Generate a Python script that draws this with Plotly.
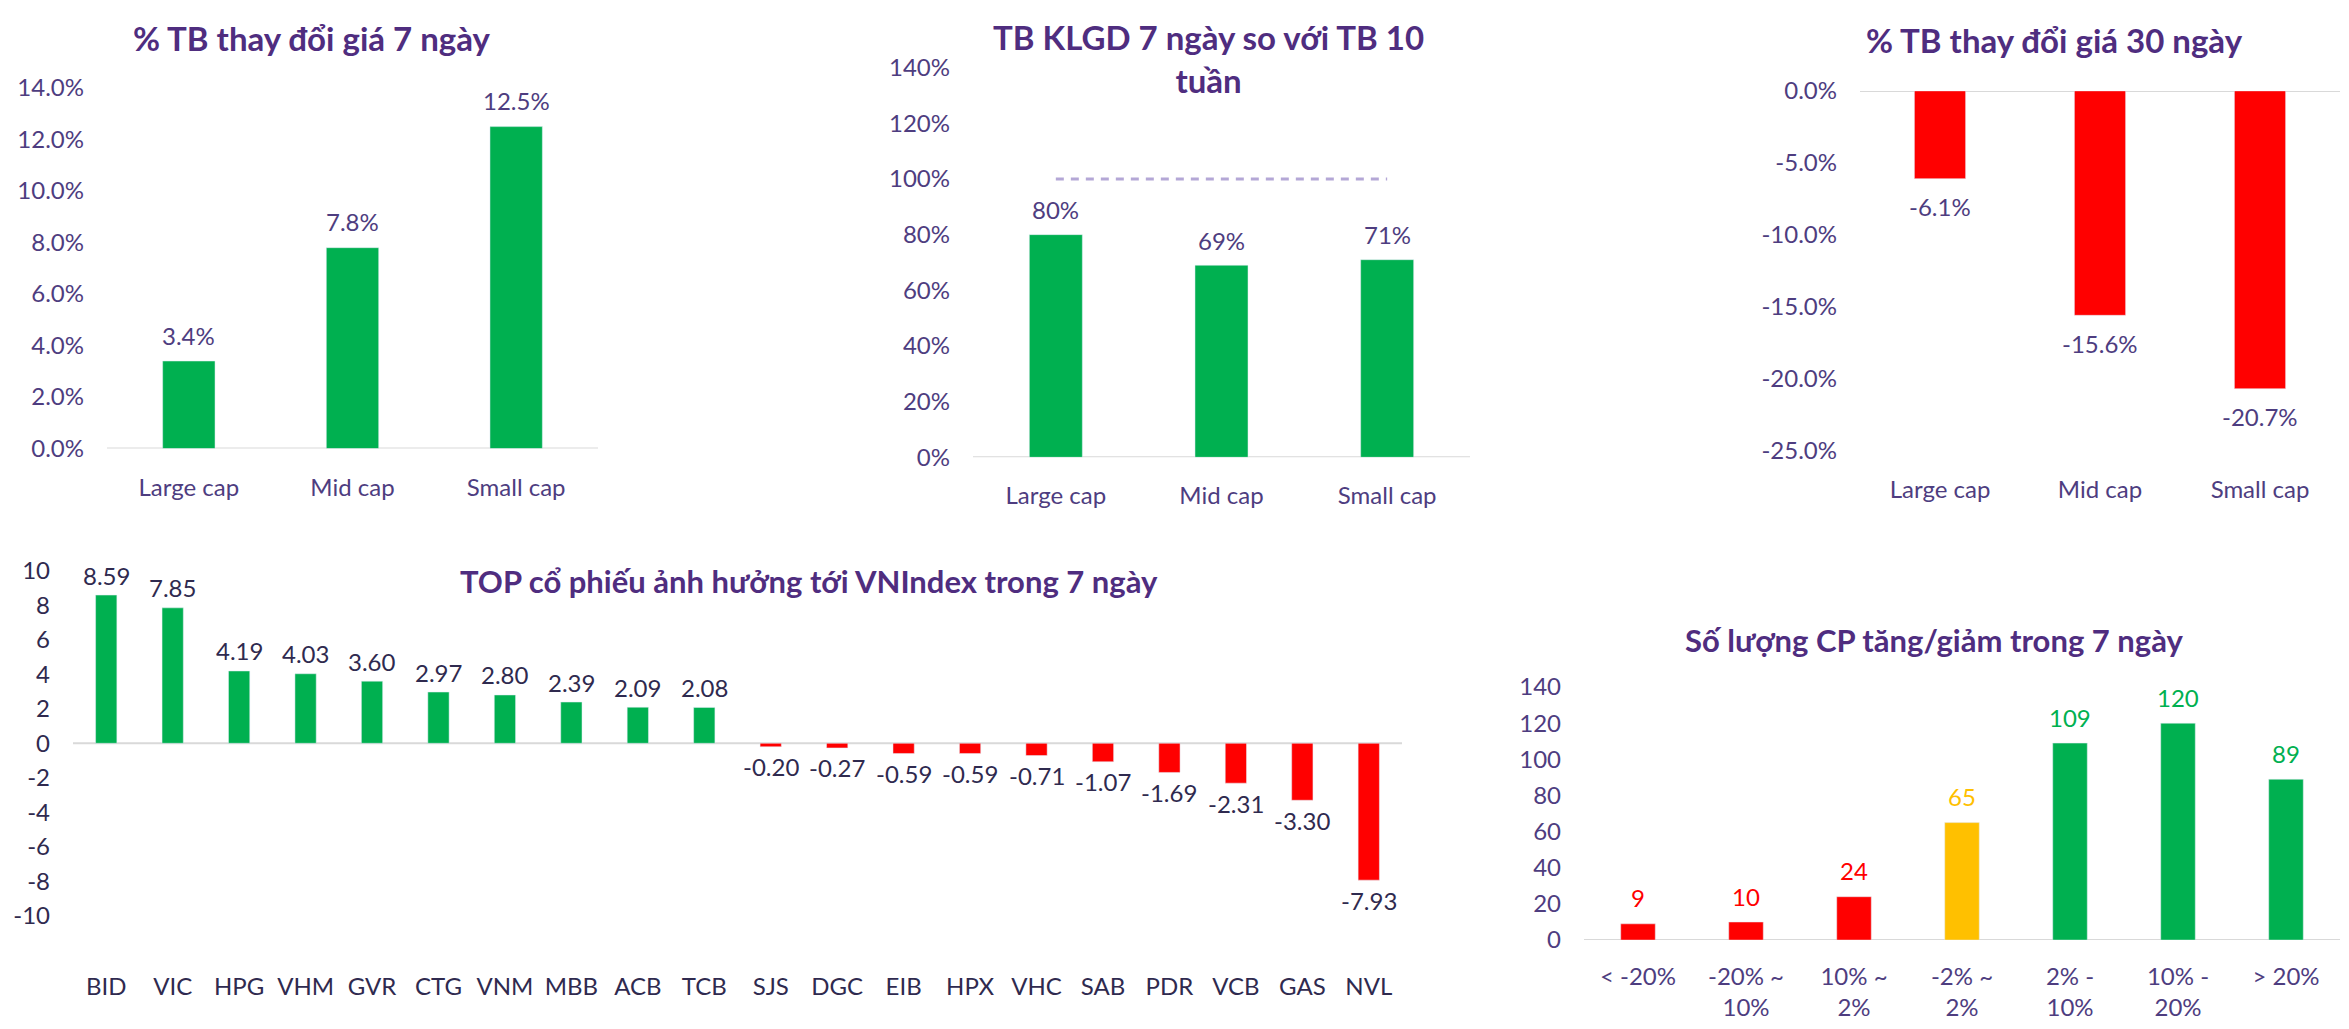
import plotly.graph_objs as go

# page body keeps its default 8px margin, so the figure is drawn 8px in
PAD = 8
W, H = 2349 - 2 * PAD, 1029 - 2 * PAD

# --- data ---
cap_groups = ['Large cap', 'Mid cap', 'Small cap']
chg_7d = [0.034, 0.078, 0.125]
vol_ratio = [0.80, 0.69, 0.71]
vol_ref = [1.0, 1.0, 1.0]
chg_30d = [-0.061, -0.156, -0.207]

tickers = ['BID', 'VIC', 'HPG', 'VHM', 'GVR', 'CTG', 'VNM', 'MBB', 'ACB', 'TCB',
           'SJS', 'DGC', 'EIB', 'HPX', 'VHC', 'SAB', 'PDR', 'VCB', 'GAS', 'NVL']
impact = [8.59, 7.85, 4.19, 4.03, 3.60, 2.97, 2.80, 2.39, 2.09, 2.08,
          -0.20, -0.27, -0.59, -0.59, -0.71, -1.07, -1.69, -2.31, -3.30, -7.93]

buckets = ['< -20%', '-20% ~<br>10%', '10% ~<br>2%', '-2% ~<br>2%',
           '2% -<br>10%', '10% -<br>20%', '> 20%']
counts = [9, 10, 24, 65, 109, 120, 89]

# tick values (negative ticks written with a plain hyphen like the original)
chg30_ticks = [0, -0.05, -0.10, -0.15, -0.20, -0.25]
chg30_ticktext = ['0.0%', '-5.0%', '-10.0%', '-15.0%', '-20.0%', '-25.0%']
impact_ticks = [10, 8, 6, 4, 2, 0, -2, -4, -6, -8, -10]
impact_ticktext = ['10', '8', '6', '4', '2', '0', '-2', '-4', '-6', '-8', '-10']

GREEN = '#00B050'
RED = '#FF0000'
YELLOW = '#FFC000'
TITLE_C = '#4F2D7F'
TICK_C = '#4E3D80'
DARK_C = '#2F2A4F'
LINE_C = '#D9D9D9'
FONT = 'Lato'

bucket_colors = [RED, RED, RED, YELLOW, GREEN, GREEN, GREEN]


def fx(px):
    return (px - PAD) / W


def fy(py):
    return 1 - (py - PAD) / H


fig = go.Figure()

fig.add_trace(go.Bar(x=cap_groups, y=chg_7d, marker_color=GREEN, xaxis='x', yaxis='y'))
fig.add_trace(go.Bar(x=cap_groups, y=vol_ratio, marker_color=GREEN, xaxis='x2', yaxis='y2'))
fig.add_trace(go.Scatter(x=cap_groups, y=vol_ref, mode='lines', xaxis='x2', yaxis='y2',
                         line=dict(color='#B4A7D6', width=3, dash='8px,7px')))
fig.add_trace(go.Bar(x=cap_groups, y=chg_30d, marker_color=RED, xaxis='x3', yaxis='y3'))
fig.add_trace(go.Bar(x=tickers, y=impact,
                     marker_color=[GREEN if v > 0 else RED for v in impact],
                     xaxis='x4', yaxis='y4'))
fig.add_trace(go.Bar(x=buckets, y=counts, marker_color=bucket_colors, xaxis='x5', yaxis='y5'))

tick_font = dict(family=FONT, size=24, color=TICK_C)
dark_font = dict(family=FONT, size=24, color=DARK_C)


def xax(x0, x1, anchor, font, standoff):
    return dict(domain=[fx(x0), fx(x1)], anchor=anchor, showgrid=False, showline=False,
                zeroline=False, ticks='', tickfont=font, ticklabelstandoff=standoff,
                fixedrange=True)


def yax(y_top, y_bot, anchor, rng, dtick, fmt, font):
    return dict(domain=[fy(y_bot), fy(y_top)], anchor=anchor, range=rng, dtick=dtick,
                tickformat=fmt, showgrid=False, showline=False, zeroline=False,
                ticks='', tickfont=font, ticklabelstandoff=22, fixedrange=True)


layout = dict(
    width=W, height=H, margin=dict(l=0, r=0, t=0, b=0),
    paper_bgcolor='white', plot_bgcolor='white', showlegend=False,
    bargap=0.68, font=dict(family=FONT, color=TICK_C),
    xaxis=xax(107, 598, 'y', tick_font, 22),
    yaxis=yax(74, 446, 'x', [0, 0.14], 0.02, '.1%', tick_font),
    xaxis2=xax(973, 1470, 'y2', tick_font, 22),
    yaxis2=yax(53, 455, 'x2', [0, 1.4], 0.2, '.0%', tick_font),
    xaxis3=xax(1860, 2340, 'y3', tick_font, 22),
    yaxis3=yax(77, 448, 'x3', [-0.25, 0], None, None, tick_font),
    xaxis4=xax(73, 1402, 'y4', dark_font, 54),
    yaxis4=yax(572, 928, 'x4', [-10, 10], None, None, dark_font),
    xaxis5=xax(1584, 2340, 'y5', tick_font, 20),
    yaxis5=yax(692, 953, 'x5', [0, 140], 20, '', tick_font),
)
fig.update_layout(**layout)
fig.update_layout(
    yaxis3=dict(tickmode='array', tickvals=chg30_ticks, ticktext=chg30_ticktext),
    yaxis4=dict(tickmode='array', tickvals=impact_ticks, ticktext=impact_ticktext),
)

# baselines at zero
for n in ['', '2', '3', '4', '5']:
    fig.add_shape(type='line', xref=f'x{n} domain', yref=f'y{n}', x0=0, x1=1, y0=0, y1=0,
                  line=dict(color=LINE_C, width=2), layer='below')

# data labels
ann = []


def labels(xs, ys, axn, texts, colors, shift):
    for x, y, t, c in zip(xs, ys, texts, colors):
        ann.append(dict(x=x, y=y, xref=f'x{axn}', yref=f'y{axn}', text=t, showarrow=False,
                        yshift=shift if y >= 0 else -shift, yanchor='middle',
                        font=dict(family=FONT, size=24, color=c)))


labels(cap_groups, chg_7d, '', [f'{v*100:.1f}%' for v in chg_7d], [TICK_C] * 3, 26)
labels(cap_groups, vol_ratio, '2', [f'{v*100:.0f}%' for v in vol_ratio], [TICK_C] * 3, 25)
labels(cap_groups, chg_30d, '3', [f'{v*100:.1f}%' for v in chg_30d], [TICK_C] * 3, 28)
labels(tickers, impact, '4', [f'{v:.2f}' for v in impact], [DARK_C] * 20, 20)
labels(buckets, counts, '5', [str(v) for v in counts], bucket_colors, 26)

# titles
for txt, cx, cy, size in [('% TB thay đổi giá 7 ngày', 312, 22, 33),
                          ('TB KLGD 7 ngày so với TB 10<br>tuần', 1208, 44, 33),
                          ('% TB thay đổi giá 30 ngày', 2054, 25, 33),
                          ('TOP cổ phiếu ảnh hưởng tới VNIndex trong 7 ngày', 809, 583, 31),
                          ('Số lượng CP tăng/giảm trong 7 ngày', 1934, 643, 31)]:
    ann.append(dict(x=fx(cx), y=fy(cy), xref='paper', yref='paper', text=txt,
                    showarrow=False, xanchor='center', yanchor='middle',
                    font=dict(family=FONT, size=size, color=TITLE_C, weight='bold')))

fig.update_layout(annotations=ann)
fig.write_html('out.html')
